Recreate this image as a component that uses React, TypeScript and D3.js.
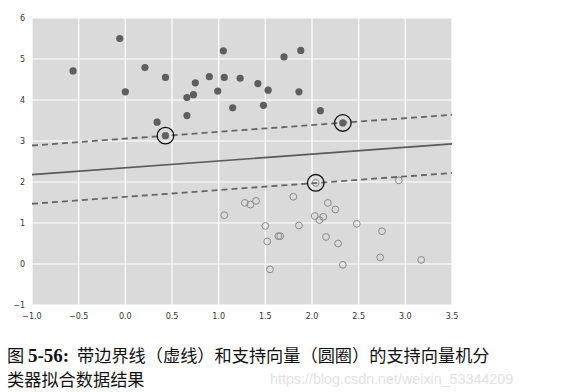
import React, { useRef, useEffect } from 'react';
import * as d3 from 'd3';

// class 0 (filled) points
const topX = [-0.56, -0.06, 0.0, 0.21, 0.43, 0.34, 0.43, 0.66, 0.66, 0.73, 0.75, 0.9, 0.99, 1.05, 1.06, 1.15, 1.23, 1.42, 1.53, 1.48, 1.7, 1.88, 1.86, 2.09, 2.33];
const topY = [4.71, 5.5, 4.2, 4.79, 4.55, 3.46, 3.13, 4.06, 3.62, 4.13, 4.42, 4.57, 4.22, 5.2, 4.55, 3.81, 4.53, 4.4, 4.24, 3.87, 5.05, 5.21, 4.2, 3.74, 3.44];

// class 1 (open) points
const botX = [2.04, 1.06, 1.28, 1.34, 1.4, 1.8, 2.17, 2.25, 2.03, 2.08, 2.12, 1.5, 1.86, 2.48, 2.75, 1.52, 1.64, 1.66, 2.15, 2.28, 1.55, 2.33, 2.73, 3.17, 2.93];
const botY = [1.98, 1.19, 1.49, 1.45, 1.54, 1.64, 1.49, 1.33, 1.17, 1.07, 1.15, 0.93, 0.94, 0.98, 0.8, 0.55, 0.68, 0.68, 0.66, 0.5, -0.13, -0.02, 0.16, 0.1, 2.04];

// support vectors
const svX = [0.43, 2.33, 2.04];
const svY = [3.13, 3.44, 1.98];

// decision boundary + margins at the x limits
const edgeX = [-1, 3.5];
const decisionY = [2.18, 2.93];
const upperY = [2.89, 3.64];
const lowerY = [1.47, 2.22];

const xTicks = [-1.0, -0.5, 0.0, 0.5, 1.0, 1.5, 2.0, 2.5, 3.0, 3.5];
const yTicks = [-1, 0, 1, 2, 3, 4, 5, 6];

const caption1a = '图';
const caption1b = '5-56:';
const caption1c = '带边界线（虚线）和支持向量（圆圈）的支持向量机分';
const caption2 = '类器拟合数据结果';
const watermark = 'https://blog.csdn.net/weixin_53344209';

const W = 579;
const H = 392;

const App: React.FC = () => {
  const svgRef = useRef<SVGSVGElement>(null);

  useEffect(() => {
    if (!svgRef.current) return;
    const svg = d3.select(svgRef.current);
    svg.selectAll('*').remove();

    const x = d3.scaleLinear().domain([-1, 3.5]).range([32, 452]);
    const y = d3.scaleLinear().domain([-1, 6]).range([305, 18]);

    // background
    svg.append('rect')
      .attr('x', x(-1)).attr('y', y(6))
      .attr('width', x(3.5) - x(-1)).attr('height', y(-1) - y(6))
      .attr('fill', '#dadada');

    // grid
    const grid = svg.append('g');
    xTicks.forEach(t => {
      grid.append('line')
        .attr('x1', x(t)).attr('x2', x(t))
        .attr('y1', y(6)).attr('y2', y(-1))
        .attr('stroke', '#fff').attr('stroke-width', 1.2);
    });
    yTicks.forEach(t => {
      grid.append('line')
        .attr('x1', x(-1)).attr('x2', x(3.5))
        .attr('y1', y(t)).attr('y2', y(t))
        .attr('stroke', '#fff').attr('stroke-width', 1.2);
    });

    // tick labels
    const fmt = (v: number, d: number) => v.toFixed(d).replace('-', '\u2212');
    xTicks.forEach(t => {
      svg.append('text')
        .attr('x', x(t)).attr('y', 319)
        .attr('text-anchor', 'middle')
        .style('font-family', 'DejaVu Sans, sans-serif')
        .style('font-size', '8px')
        .style('fill', '#333')
        .text(fmt(t, 1));
    });
    yTicks.forEach(t => {
      svg.append('text')
        .attr('x', 25).attr('y', y(t) + 3)
        .attr('text-anchor', 'end')
        .style('font-family', 'DejaVu Sans, sans-serif')
        .style('font-size', '8px')
        .style('fill', '#333')
        .text(fmt(t, 0));
    });

    // points
    svg.append('g').selectAll('circle')
      .data(topX)
      .join('circle')
      .attr('cx', d => x(d))
      .attr('cy', (_, i) => y(topY[i]))
      .attr('r', 3.6)
      .attr('fill', '#5e5e5e');

    svg.append('g').selectAll('circle')
      .data(botX)
      .join('circle')
      .attr('cx', d => x(d))
      .attr('cy', (_, i) => y(botY[i]))
      .attr('r', 3.4)
      .attr('fill', 'none')
      .attr('stroke', '#8a8a8a')
      .attr('stroke-width', 1);

    // boundary lines
    const line = d3.line<number>()
      .x((_, i) => x(edgeX[i]))
      .y(d => y(d));

    svg.append('path')
      .datum(decisionY)
      .attr('d', line)
      .attr('fill', 'none')
      .attr('stroke', '#5a5a5a')
      .attr('stroke-width', 1.6);

    [upperY, lowerY].forEach(arr => {
      svg.append('path')
        .datum(arr)
        .attr('d', line)
        .attr('fill', 'none')
        .attr('stroke', '#666')
        .attr('stroke-width', 1.8)
        .attr('stroke-dasharray', '6,4');
    });

    // support vectors
    svg.append('g').selectAll('circle')
      .data(svX)
      .join('circle')
      .attr('cx', d => x(d))
      .attr('cy', (_, i) => y(svY[i]))
      .attr('r', 8.3)
      .attr('fill', 'none')
      .attr('stroke', '#111')
      .attr('stroke-width', 1.3);

    // caption
    const capFont = '"Noto Sans CJK SC", sans-serif';
    svg.append('text')
      .attr('x', 7).attr('y', 362)
      .style('font-family', capFont)
      .style('font-size', '17.2px')
      .style('fill', '#111')
      .text(caption1a);
    svg.append('text')
      .attr('x', 28).attr('y', 362)
      .style('font-family', '"Liberation Serif", serif')
      .style('font-weight', 'bold')
      .style('font-size', '19px')
      .style('fill', '#111')
      .text(caption1b);
    svg.append('text')
      .attr('x', 77).attr('y', 362)
      .style('font-family', capFont)
      .style('font-size', '17.2px')
      .style('fill', '#111')
      .text(caption1c);

    svg.append('text')
      .attr('x', 7).attr('y', 386)
      .style('font-family', capFont)
      .style('font-size', '17.2px')
      .style('fill', '#111')
      .text(caption2);

    svg.append('text')
      .attr('x', 270).attr('y', 384)
      .style('font-family', '"Liberation Sans", sans-serif')
      .style('font-size', '14.3px')
      .style('fill', '#e2e2e2')
      .text(watermark);
  }, []);

  return (
    <div style={{ position: 'absolute', left: 0, top: 0, width: W, height: H, background: '#fff' }}>
      <svg ref={svgRef} width={W} height={H} />
    </div>
  );
};

export default App;
